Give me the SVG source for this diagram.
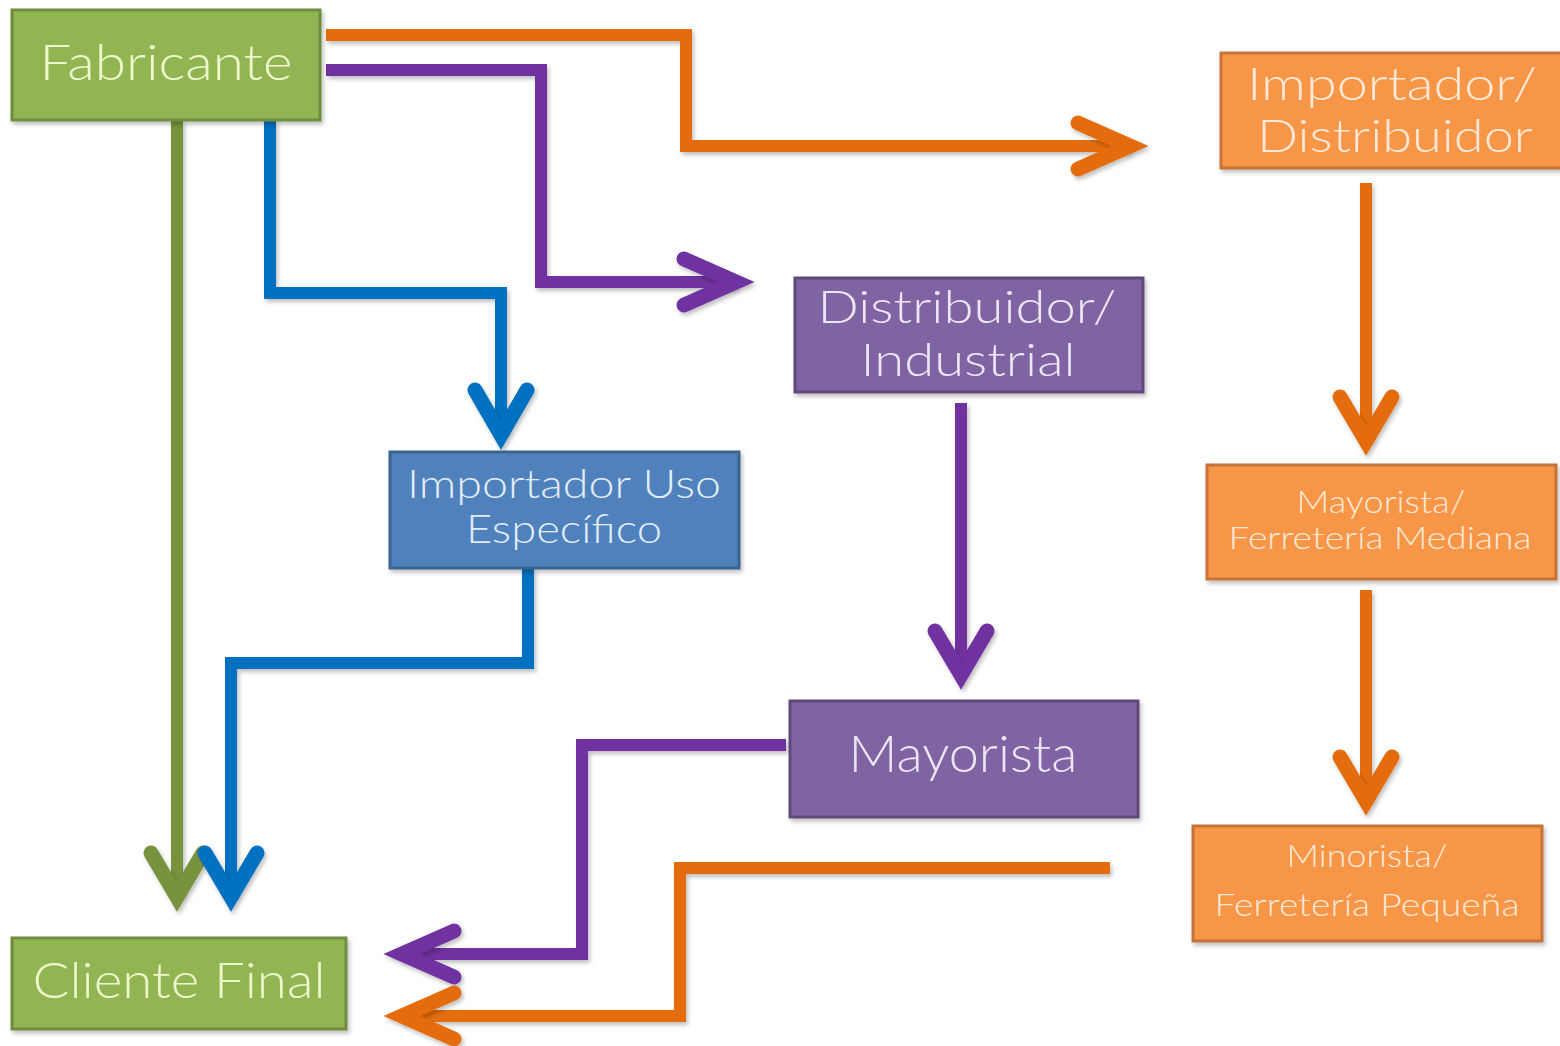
<svg xmlns="http://www.w3.org/2000/svg" width="1560" height="1046" viewBox="0 0 1560 1046">
<defs>
<filter id="sh" filterUnits="userSpaceOnUse" x="0" y="0" width="1560" height="1046">
<feDropShadow dx="2" dy="3" stdDeviation="2" flood-color="#000" flood-opacity="0.25"/>
</filter>
</defs>
<style>
.box{stroke-width:3;filter:url(#sh)}
.g{fill:#92b552;stroke:#6f8c3c}
.o{fill:#f79646;stroke:#c5733a}
.p{fill:#8064a2;stroke:#5e4a7c}
.b{fill:#4f81bd;stroke:#3a6391}
.t{font-family:Lato,"Open Sans","Noto Sans",sans-serif;font-weight:300;text-anchor:middle}
.tg{fill:#eef8cc}
.to{fill:#fde9d9}
.tp{fill:#ece6f4}
.tb{fill:#e3ecf7}
.c{fill:none;stroke-width:12;stroke-linejoin:miter;filter:url(#sh)}
.ah{fill:none;stroke-width:15;stroke-linecap:round;stroke-linejoin:miter;stroke-miterlimit:10;filter:url(#sh)}
.co{stroke:#e46c0a}
.cp{stroke:#7030a0}
.cb{stroke:#0070c0}
.cg{stroke:#77933c}
</style>
<g id="connectors">
<polyline class="c co" points="326,35 686,35 686,146 1130,146"/>
<polyline class="ah co" points="1078,123 1130,146 1078,169"/>
<polyline class="c cp" points="326,70 541,70 541,282 736,282"/>
<polyline class="ah cp" points="684,259 736,282 684,305"/>
<polyline class="c cb" points="270,120 270,293 501,293 501,434"/>
<polyline class="ah cb" points="475,390 501,435 527,390"/>
<polyline class="c cg" points="177,120 177,896"/>
<polyline class="ah cg" points="151,853 177,897 203,853"/>
<polyline class="c cb" points="528,568 528,663 231,663 231,896"/>
<polyline class="ah cb" points="205,853 231,897 257,853"/>
<polyline class="c cp" points="961,403 961,674"/>
<polyline class="ah cp" points="935,631 961,675 987,631"/>
<polyline class="c cp" points="786,745 582,745 582,954 402,954"/>
<polyline class="ah cp" points="454,931 402,954 454,977"/>
<polyline class="c co" points="1110,868 680,868 680,1016 402,1016"/>
<polyline class="ah co" points="454,993 402,1016 454,1039"/>
<polyline class="c co" points="1366,183 1366,440"/>
<polyline class="ah co" points="1340,397 1366,441 1392,397"/>
<polyline class="c co" points="1366,590 1366,800"/>
<polyline class="ah co" points="1340,757 1366,801 1392,757"/>
</g>
<g id="fabricante">
<rect class="box g" x="12" y="10" width="308" height="110"/>
<text class="t tg" x="166" y="80" font-size="50" textLength="253" lengthAdjust="spacingAndGlyphs">Fabricante</text>
</g>
<g id="importador-distribuidor">
<rect class="box o" x="1221" y="53" width="345" height="115"/>
<text class="t to" x="1392" y="100" font-size="46" textLength="290" lengthAdjust="spacingAndGlyphs">Importador/</text>
<text class="t to" x="1395" y="152" font-size="46" textLength="276" lengthAdjust="spacingAndGlyphs">Distribuidor</text>
</g>
<g id="distribuidor-industrial">
<rect class="box p" x="795" y="278" width="348" height="114"/>
<text class="t tp" x="967" y="323" font-size="46" textLength="299" lengthAdjust="spacingAndGlyphs">Distribuidor/</text>
<text class="t tp" x="968" y="376" font-size="46" textLength="215" lengthAdjust="spacingAndGlyphs">Industrial</text>
</g>
<g id="importador-uso">
<rect class="box b" x="390" y="452" width="349" height="116"/>
<text class="t tb" x="564" y="498" font-size="39" textLength="314" lengthAdjust="spacingAndGlyphs">Importador Uso</text>
<text class="t tb" x="564" y="543" font-size="39" textLength="196" lengthAdjust="spacingAndGlyphs">Específico</text>
</g>
<g id="mayorista-ferreteria">
<rect class="box o" x="1207" y="465" width="349" height="114"/>
<text class="t to" x="1381" y="513" font-size="31" textLength="169" lengthAdjust="spacingAndGlyphs">Mayorista/</text>
<text class="t to" x="1380" y="549" font-size="31" textLength="303" lengthAdjust="spacingAndGlyphs">Ferretería Mediana</text>
</g>
<g id="mayorista">
<rect class="box p" x="790" y="701" width="348" height="116"/>
<text class="t tp" x="963" y="772" font-size="52" textLength="229" lengthAdjust="spacingAndGlyphs">Mayorista</text>
</g>
<g id="minorista">
<rect class="box o" x="1193" y="826" width="349" height="115"/>
<text class="t to" x="1367" y="867" font-size="32" textLength="161" lengthAdjust="spacingAndGlyphs">Minorista/</text>
<text class="t to" x="1367" y="916" font-size="32" textLength="305" lengthAdjust="spacingAndGlyphs">Ferretería Pequeña</text>
</g>
<g id="cliente-final">
<rect class="box g" x="12" y="938" width="334" height="91"/>
<text class="t tg" x="179" y="998" font-size="50" textLength="293" lengthAdjust="spacingAndGlyphs">Cliente Final</text>
</g>
</svg>
